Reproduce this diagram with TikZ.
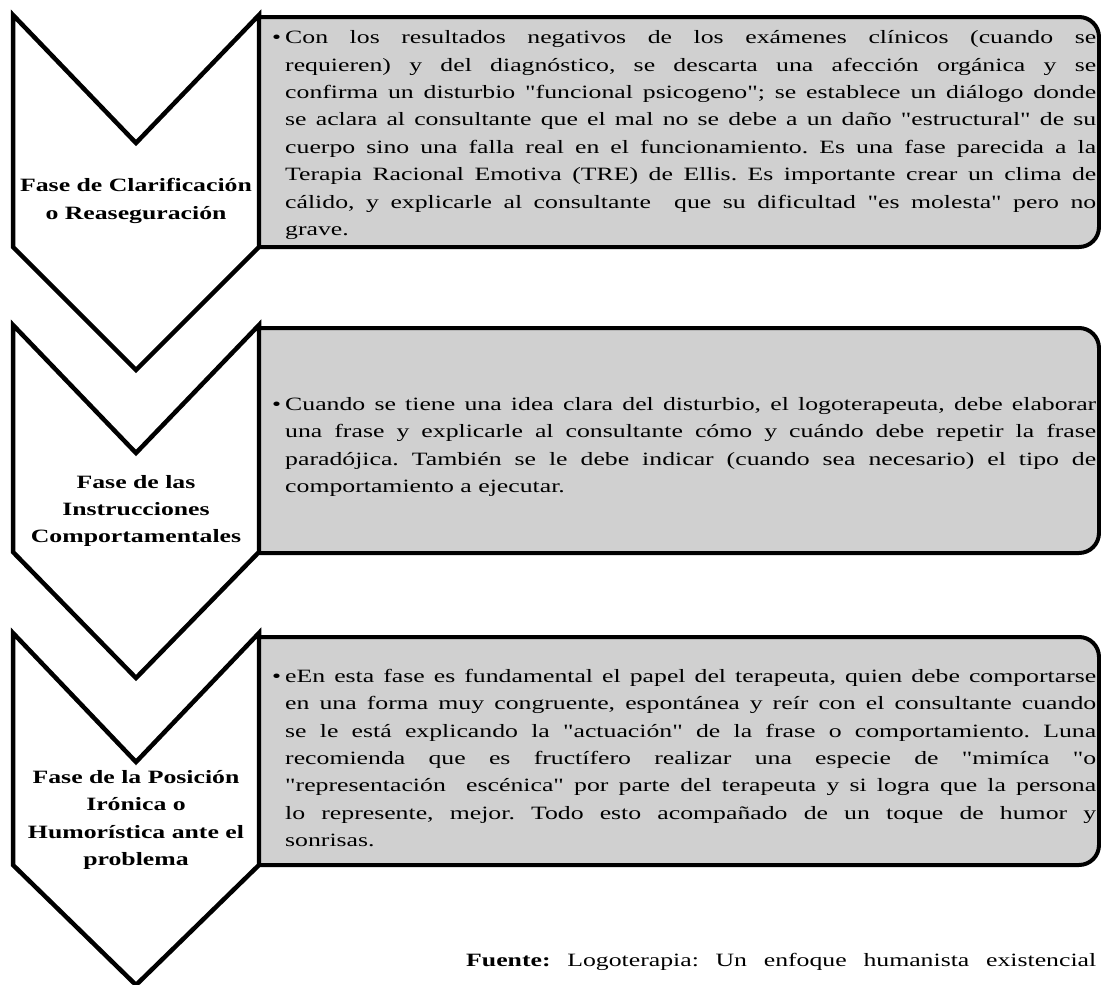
\documentclass[tikz,border=0pt]{standalone}
\usepackage{fontspec}
\newfontfamily\bodyfont{Liberation Serif}[FakeStretch=1.37]
\definecolor{panelgray}{RGB}{208,208,208}
\begin{document}
\frenchspacing
\begin{tikzpicture}[x=1pt,y=-1pt,
  chevron/.style={draw=black, line width=4.5pt, line join=miter, miter limit=10},
  panel/.style={draw=black, fill=panelgray, line width=4pt},
  phase/.style={font=\bodyfont\fontsize{18.8}{27.2}\selectfont\bfseries, align=center, inner sep=0pt},
  bodytext/.style={anchor=west, text width=811pt, align=justify, inner sep=0pt,
    font=\bodyfont\fontsize{18.8}{27.4}\selectfont},
  srctext/.style={anchor=base west, inner sep=0pt, font=\bodyfont\fontsize{18.8}{27.4}\selectfont}
]
\useasboundingbox (0,0) rectangle (1101,985);

% chevrons
\draw[chevron] (13,15) -- (136,143) -- (259,15) -- (259,247) -- (136,370) -- (13,247) -- cycle;
\draw[chevron] (13,325) -- (136,453) -- (259,325) -- (259,552) -- (136,678) -- (13,552) -- cycle;
\draw[chevron] (13,633) -- (136,762) -- (259,633) -- (259,865) -- (136,985) -- (13,865) -- cycle;

% panels with rounded right corners
\draw[panel] (259,17) -- (1079,17) arc[start angle=90,end angle=0,radius=20pt]
  -- (1099,227) arc[start angle=0,end angle=-90,radius=20pt] -- (259,247) -- cycle;
\draw[panel] (259,328) -- (1079,328) arc[start angle=90,end angle=0,radius=20pt]
  -- (1099,533) arc[start angle=0,end angle=-90,radius=20pt] -- (259,553) -- cycle;
\draw[panel] (259,637) -- (1079,637) arc[start angle=90,end angle=0,radius=20pt]
  -- (1099,845) arc[start angle=0,end angle=-90,radius=20pt] -- (259,865) -- cycle;

% phase labels
\node[phase] (l1) at (136,201) {Fase de Clarificación\\o Reaseguración};
\node[phase] (l2) at (136,511) {Fase de las\\Instrucciones\\Comportamentales};
\node[phase] (l3) at (136,820) {Fase de la Posición\\Irónica o\\Humorística ante el\\problema};

% panel texts
\node[bodytext] (t1) at (285,135) {\leavevmode\llap{\textbullet\hspace{4pt}}Con los resultados negativos de los exámenes clínicos (cuando se\linebreak
requieren) y del diagnóstico, se descarta una afección orgánica y se\linebreak
confirma un disturbio "funcional psicogeno"; se establece un diálogo donde\linebreak
se aclara al consultante que el mal no se debe a un daño "estructural" de su\linebreak
cuerpo sino una falla real en el funcionamiento. Es una fase parecida a la\linebreak
Terapia Racional Emotiva (TRE) de Ellis. Es importante crear un clima de\linebreak
cálido, y explicarle al consultante\ \ que su dificultad "es molesta" pero no\linebreak
grave.};

\node[bodytext] (t2) at (285,447) {\leavevmode\llap{\textbullet\hspace{4pt}}Cuando se tiene una idea clara del disturbio, el logoterapeuta, debe elaborar\linebreak
una frase y explicarle al consultante cómo y cuándo debe repetir la frase\linebreak
paradójica. También se le debe indicar (cuando sea necesario) el tipo de\linebreak
comportamiento a ejecutar.};

\node[bodytext] (t3) at (285,758) {\leavevmode\llap{\textbullet\hspace{4pt}}eEn esta fase es fundamental el papel del terapeuta, quien debe comportarse\linebreak
en una forma muy congruente, espontánea y reír con el consultante cuando\linebreak
se le está explicando la "actuación" de la frase o comportamiento. Luna\linebreak
recomienda que es fructífero realizar una especie de "mimíca "o\linebreak
"representación\ \ escénica" por parte del terapeuta y si logra que la persona\linebreak
lo represente, mejor. Todo esto acompañado de un toque de humor y\linebreak
sonrisas.};

% source line
\node[srctext] (src) at (466,966) {\makebox[630pt][s]{\textbf{Fuente:} Logoterapia: Un enfoque humanista existencial}};
\end{tikzpicture}
\end{document}
